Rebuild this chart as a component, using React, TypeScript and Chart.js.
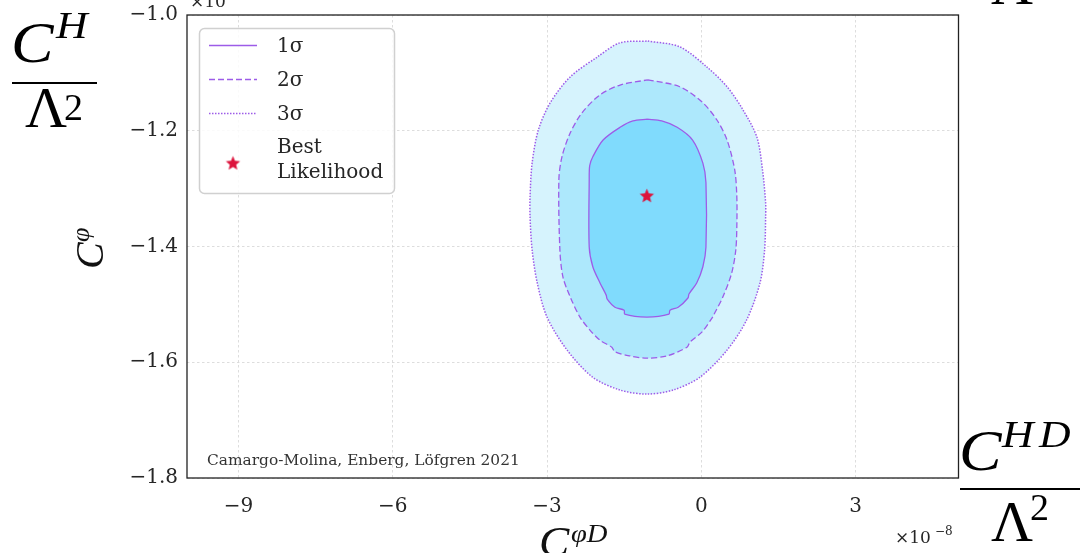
import React, { useEffect, useRef } from 'react';
import { Chart, registerables } from 'chart.js';

Chart.register(...registerables);

// ---- data ----
const xTicks = [-9, -6, -3, 0, 3];
const yTicks = [-1.8, -1.6, -1.4, -1.2, -1.0];
const xLimits = [-10, 5];
const yLimits = [-1.8, -1.0];

const seriesLabels = ['1σ', '2σ', '3σ', 'Best\nLikelihood'];

const sigma1X = [-1.05, -0.77, -0.47, -0.17, 0.03, 0.09, 0.09, 0.03, -0.09, -0.24, -0.26, -0.45, -0.61, -0.63, -1.06, -1.49, -1.50, -1.68, -1.83, -1.85, -1.97, -2.11, -2.18, -2.18, -2.17, -2.11, -1.91, -1.58, -1.33, -1.05];
const sigma1Y = [-1.180, -1.183, -1.194, -1.216, -1.256, -1.290, -1.401, -1.435, -1.463, -1.482, -1.489, -1.505, -1.510, -1.517, -1.522, -1.517, -1.510, -1.505, -1.491, -1.484, -1.463, -1.435, -1.401, -1.285, -1.260, -1.245, -1.216, -1.194, -1.183, -1.180];

const sigma2X = [-1.04, -0.42, 0.01, 0.30, 0.50, 0.65, 0.69, 0.69, 0.67, 0.59, 0.42, 0.26, 0.22, 0.01, -0.22, -0.28, -0.67, -1.06, -1.39, -1.68, -1.74, -1.97, -2.17, -2.36, -2.55, -2.69, -2.75, -2.77, -2.71, -2.55, -2.32, -1.97, -1.58, -1.04];
const sigma2Y = [-1.112, -1.124, -1.150, -1.181, -1.216, -1.268, -1.314, -1.366, -1.406, -1.446, -1.487, -1.515, -1.522, -1.548, -1.565, -1.574, -1.589, -1.593, -1.589, -1.582, -1.574, -1.562, -1.544, -1.522, -1.487, -1.453, -1.406, -1.285, -1.245, -1.204, -1.169, -1.138, -1.121, -1.112];

const sigma3X = [-1.04, -0.42, 0.11, 0.50, 0.81, 1.08, 1.19, 1.25, 1.25, 1.23, 1.14, 0.88, 0.50, -0.03, -0.55, -1.06, -1.58, -2.11, -2.61, -3.00, -3.19, -3.29, -3.33, -3.33, -3.29, -3.17, -2.94, -2.55, -2.03, -1.58, -1.04];
const sigma3Y = [-1.045, -1.055, -1.090, -1.124, -1.164, -1.211, -1.268, -1.325, -1.349, -1.406, -1.463, -1.527, -1.579, -1.626, -1.648, -1.655, -1.648, -1.626, -1.579, -1.522, -1.463, -1.406, -1.349, -1.314, -1.256, -1.199, -1.152, -1.107, -1.073, -1.048, -1.045];

const bestX = [-1.06];
const bestY = [-1.312];

const citation = 'Camargo-Molina, Enberg, Löfgren 2021';

// ---- helpers ----
const toPts = (xs: number[], ys: number[]) => xs.map((x, i) => ({ x, y: ys[i] }));
const minus = (s: string) => s.replace('-', '\u2212');

function makeStar(r: number, color: string) {
  const c = document.createElement('canvas');
  const s = Math.ceil(r * 2 + 2);
  c.width = s;
  c.height = s;
  const g = c.getContext('2d')!;
  g.fillStyle = color;
  g.beginPath();
  for (let i = 0; i < 10; i++) {
    const rad = i % 2 === 0 ? r : r * 0.45;
    const a = -Math.PI / 2 + (i * Math.PI) / 5;
    g.lineTo(s / 2 + rad * Math.cos(a), s / 2 + rad * Math.sin(a) + r * 0.08);
  }
  g.closePath();
  g.fill();
  return c;
}

const PURPLE = '#9d5ce8';
const TXT = '#262626';
const SERIF = '"DejaVu Serif", serif';
const MATH = '"Liberation Serif", serif';
const DASHES = [[], [6, 3], [1.5, 1.5]];

function wide(ctx: CanvasRenderingContext2D, s: string, x: number, y: number, font: string, sx: number) {
  ctx.save();
  ctx.translate(x, y);
  ctx.scale(sx, 1);
  ctx.font = font;
  ctx.fillText(s, 0, 0);
  ctx.restore();
}

const decorPlugin = {
  id: 'decor',
  afterDatasetsDraw(chart: any) {
    const { ctx, chartArea: a } = chart;
    const ds = chart.data.datasets;
    ctx.save();
    // frame
    ctx.setLineDash([]);
    ctx.strokeStyle = '#222';
    ctx.lineWidth = 1.3;
    ctx.strokeRect(a.left, a.top, a.right - a.left, a.bottom - a.top);

    // citation
    ctx.fillStyle = '#333';
    ctx.font = `15.4px ${SERIF}`;
    ctx.textBaseline = 'alphabetic';
    ctx.textAlign = 'left';
    ctx.fillText(citation, a.left + 20, a.bottom - 13);

    // legend box
    ctx.beginPath();
    ctx.roundRect(199.5, 28.5, 195, 165, 5);
    ctx.fillStyle = 'rgba(255,255,255,0.85)';
    ctx.fill();
    ctx.strokeStyle = '#d0d0d0';
    ctx.lineWidth = 1.5;
    ctx.stroke();

    ctx.font = `20px ${SERIF}`;
    ctx.textBaseline = 'middle';
    for (let i = 0; i < 3; i++) {
      const y = 45.5 + i * 34;
      ctx.setLineDash(DASHES[i]);
      ctx.strokeStyle = PURPLE;
      ctx.lineWidth = 1.4;
      ctx.beginPath();
      ctx.moveTo(209, y);
      ctx.lineTo(257, y);
      ctx.stroke();
      ctx.fillStyle = TXT;
      ctx.fillText(String(ds[i].label), 277, y + 1);
    }
    ctx.setLineDash([]);
    const star = ds[3].pointStyle;
    ctx.drawImage(star, 233 - star.width / 2, 163 - star.height / 2);
    const lines = String(ds[3].label).split('\n');
    ctx.fillStyle = TXT;
    lines.forEach((t, k) => ctx.fillText(t, 277, 148 + k * 25));

    // offset texts
    ctx.textBaseline = 'alphabetic';
    ctx.font = `17px ${SERIF}`;
    ctx.fillText('\u00d710', 895, 543);
    ctx.font = `12px ${SERIF}`;
    ctx.fillText('\u22128', 935, 535);
    ctx.font = `17px ${SERIF}`;
    ctx.fillText('\u00d710', 190, 7);

    // axis titles
    ctx.fillStyle = '#111';
    wide(ctx, 'C', 539, 556, `italic 42px ${MATH}`, 1.08);
    wide(ctx, '\u03c6D', 571, 542, `italic 26px ${MATH}`, 1.1);

    ctx.save();
    ctx.translate(103, 269);
    ctx.rotate(-Math.PI / 2);
    ctx.font = `italic 40px ${MATH}`;
    ctx.fillText('C', 0, 0);
    ctx.font = `italic 26px ${MATH}`;
    ctx.fillText('\u03c6', 27, -14);
    ctx.restore();

    // big fraction labels
    ctx.fillStyle = '#000';
    wide(ctx, 'C', 11, 62, `italic 58px ${MATH}`, 1.1);
    wide(ctx, 'H', 56, 38, `italic 38px ${MATH}`, 1.15);
    ctx.fillRect(12, 82, 85, 2);
    ctx.font = `58px ${MATH}`;
    ctx.fillText('\u039b', 25, 127);
    ctx.font = `38px ${MATH}`;
    ctx.fillText('2', 64, 120);

    wide(ctx, 'C', 959, 470, `italic 58px ${MATH}`, 1.1);
    wide(ctx, 'H', 1002, 447, `italic 38px ${MATH}`, 1.15);
    wide(ctx, 'D', 1039, 447, `italic 38px ${MATH}`, 1.15);
    ctx.fillRect(960, 488, 120, 2);
    ctx.font = `58px ${MATH}`;
    ctx.fillText('\u039b', 991, 541);
    ctx.font = `38px ${MATH}`;
    ctx.fillText('2', 1030, 520);

    ctx.font = `58px ${MATH}`;
    ctx.fillText('\u039b', 991, 4);
    ctx.restore();
  },
};

export default function App() {
  const ref = useRef<HTMLCanvasElement>(null);
  useEffect(() => {
    const starImg = makeStar(7.5, '#dc143c');
    const contour = (xs: number[], ys: number[], label: string, fillCol: string, dash: number[], w: number) => ({
      label,
      data: toPts(xs, ys),
      showLine: true,
      fill: 'shape',
      backgroundColor: fillCol,
      borderColor: PURPLE,
      borderWidth: w,
      borderDash: dash,
      pointRadius: 0,
      tension: 0.3,
    });
    const chart = new Chart(ref.current!, {
      type: 'line',
      data: {
        datasets: [
          contour(sigma1X, sigma1Y, seriesLabels[0], 'rgb(128,219,253)', DASHES[0], 1.3),
          contour(sigma2X, sigma2Y, seriesLabels[1], 'rgb(173,232,252)', DASHES[1], 1.3),
          contour(sigma3X, sigma3Y, seriesLabels[2], 'rgb(214,243,253)', DASHES[2], 1.5),
          {
            label: seriesLabels[3],
            data: toPts(bestX, bestY),
            showLine: false,
            pointStyle: starImg,
            pointRadius: 8,
            order: -1,
          } as any,
        ],
      },
      options: {
        responsive: false,
        animation: false,
        events: [],
        layout: { padding: { top: 15, right: 124.5, bottom: 0, left: 0 } },
        plugins: { legend: { display: false }, tooltip: { enabled: false } },
        scales: {
          x: {
            type: 'linear',
            min: xLimits[0],
            max: xLimits[1],
            afterBuildTicks: (s: any) => { s.ticks = xTicks.map((v) => ({ value: v })); },
            afterFit: (s: any) => { s.height = 75; s.paddingLeft = 0; s.paddingRight = 0; },
            ticks: {
              padding: 17,
              maxRotation: 0,
              color: TXT,
              font: { family: 'DejaVu Serif', size: 20 },
              callback: (v: any) => minus(String(v)),
            },
            grid: { color: '#d4d4d4', lineWidth: 0.8, drawTicks: false },
            border: { display: false, dash: [2.5, 2.5] },
          },
          y: {
            type: 'linear',
            min: yLimits[0],
            max: yLimits[1],
            afterBuildTicks: (s: any) => { s.ticks = yTicks.map((v) => ({ value: v })); },
            afterFit: (s: any) => { s.width = 187; s.paddingTop = 0; s.paddingBottom = 0; },
            ticks: {
              padding: 9,
              color: TXT,
              font: { family: 'DejaVu Serif', size: 20 },
              callback: (v: any) => minus(Number(v).toFixed(1)),
            },
            grid: { color: '#d4d4d4', lineWidth: 0.8, drawTicks: false },
            border: { display: false, dash: [2.5, 2.5] },
          },
        },
      } as any,
      plugins: [decorPlugin],
    });
    return () => chart.destroy();
  }, []);
  return (
    <div style={{ position: 'fixed', left: 0, top: 0, width: 1083, height: 553, background: '#fff' }}>
      <canvas ref={ref} width={1083} height={553} style={{ display: 'block' }} />
    </div>
  );
}
